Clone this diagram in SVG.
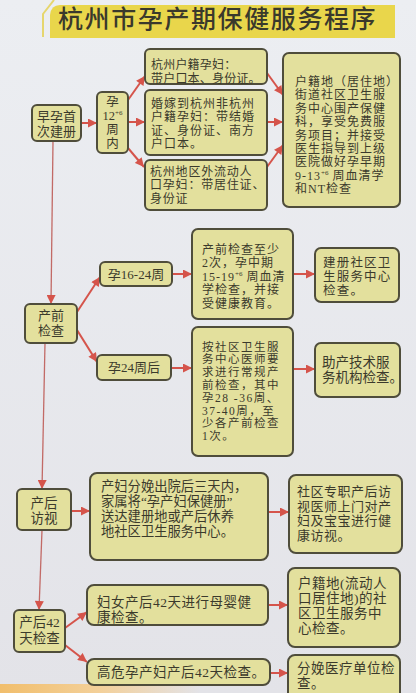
<svg xmlns="http://www.w3.org/2000/svg" width="416" height="693" viewBox="0 0 416 693">
<defs>
<linearGradient id="bg" x1="0" y1="0" x2="0" y2="1">
<stop offset="0" stop-color="#eceef2"/>
<stop offset="1" stop-color="#e3e3e8"/>
</linearGradient>
<linearGradient id="orange" x1="0" y1="0" x2="1" y2="0">
<stop offset="0" stop-color="#f1be6c"/>
<stop offset="0.5" stop-color="#f3d09a"/>
<stop offset="1" stop-color="#f3d09a" stop-opacity="0"/>
</linearGradient>
<marker id="ah" viewBox="0 0 10 10" refX="10" refY="5" markerWidth="10" markerHeight="9" markerUnits="userSpaceOnUse" orient="auto">
<path d="M0,0 L10,5 L0,10 z" fill="#d5544b"/>
</marker>
</defs>
<style>
.box{fill:#e3e09d;stroke:#4f4d3b;stroke-width:2}
.t{font-family:"Liberation Serif","Noto Sans CJK SC",serif;fill:#3b3a2c;font-size:13px}
.c{text-anchor:middle}
.s12{font-size:12px;letter-spacing:1px}
.s12n{font-size:12px;letter-spacing:0.2px}
.s12m{font-size:12px;letter-spacing:0.8px}
.s115{font-size:11.5px;letter-spacing:1.5px}
.s125{font-size:12.5px;letter-spacing:1.2px}
.s13{font-size:13px;letter-spacing:0.5px}
.s135{font-size:13.5px;letter-spacing:0.5px}
.title{font-family:"Noto Sans CJK SC","Noto Sans",sans-serif;font-size:25px;fill:#3a392c;letter-spacing:1.6px;font-weight:500}
.arr{stroke:#d5544b;stroke-width:2;fill:none;marker-end:url(#ah)}
.vl{stroke:#c26a66;stroke-width:1.3;fill:none;marker-end:url(#ah)}
.sup{font-size:7px;letter-spacing:0}
</style>
<rect width="416" height="693" fill="url(#bg)"/>
<rect x="0" y="684" width="200" height="9" fill="url(#orange)"/>

<g id="title">
<polyline points="43,37 43,14 54,0" fill="none" stroke="#e6d66e" stroke-width="2"/>
<path d="M60,5 L395,5 L395,38 L50,38 L50,15 Q51,5 60,5 Z" fill="#e9d64b"/>
<text class="title" x="58" y="28">杭州市孕产期保健服务程序</text>
</g>

<g id="connectors">
<line class="arr" x1="81" y1="123" x2="97" y2="123"/>
<line class="arr" x1="128" y1="100" x2="145" y2="76"/>
<line class="arr" x1="128" y1="122" x2="145" y2="122"/>
<line class="arr" x1="128" y1="148" x2="144" y2="167"/>
<line class="arr" x1="267" y1="73" x2="283" y2="95"/>
<line class="arr" x1="267" y1="122" x2="283" y2="122"/>
<line class="arr" x1="267" y1="167" x2="283" y2="145"/>
<line class="vl" x1="53" y1="141" x2="51" y2="304"/>
<line class="arr" x1="77" y1="312" x2="100" y2="277"/>
<line class="arr" x1="77" y1="330" x2="97" y2="362"/>
<line class="arr" x1="172" y1="274" x2="192" y2="274"/>
<line class="arr" x1="171" y1="368" x2="192" y2="368"/>
<line class="arr" x1="293" y1="274" x2="315" y2="274"/>
<line class="arr" x1="293" y1="369" x2="315" y2="369"/>
<line class="vl" x1="45" y1="343" x2="42" y2="489"/>
<line class="arr" x1="71" y1="511" x2="90" y2="511"/>
<line class="arr" x1="268" y1="512" x2="289" y2="512"/>
<line class="vl" x1="42" y1="530" x2="39" y2="610"/>
<line class="arr" x1="65" y1="628" x2="87" y2="612"/>
<line class="arr" x1="65" y1="645" x2="87" y2="662"/>
<line class="arr" x1="268" y1="605" x2="288" y2="605"/>
<line class="arr" x1="270" y1="673" x2="288" y2="673"/>
</g>

<g id="n-zaoyun">
<rect class="box" x="32" y="105" width="49" height="36" rx="5"/>
<text class="t c" x="56.5" y="121">早孕首</text>
<text class="t c" x="56.5" y="136">次建册</text>
</g>

<g id="n-yun12">
<rect class="box" x="97" y="92" width="31" height="61" rx="5"/>
<text class="t c" x="112.5" y="106" style="font-size:12.5px">孕</text>
<text class="t c" x="112.5" y="120" style="font-size:12.5px">12<tspan class="sup" dy="-5">+6</tspan></text>
<text class="t c" x="112.5" y="134" style="font-size:12.5px">周</text>
<text class="t c" x="112.5" y="148" style="font-size:12.5px">内</text>
</g>

<g id="n-hangzhou">
<rect class="box" x="145" y="49" width="122" height="35" rx="5"/>
<text class="t s12n" x="151" y="69">杭州户籍孕妇：</text>
<text class="t s12n" x="151" y="82.5">带户口本、身份证。</text>
</g>

<g id="n-hunjia">
<rect class="box" x="145" y="90" width="122" height="65" rx="5"/>
<text class="t s12" x="151" y="108">婚嫁到杭州非杭州</text>
<text class="t s12" x="151" y="121.4">户籍孕妇：带结婚</text>
<text class="t s12" x="151" y="134.8">证、身份证、南方</text>
<text class="t s12" x="151" y="148.2">户口本。</text>
</g>

<g id="n-liudong">
<rect class="box" x="145" y="160" width="122" height="50" rx="5"/>
<text class="t s12m" x="150" y="176">杭州地区外流动人</text>
<text class="t s12m" x="150" y="189.4">口孕妇：带居住证、</text>
<text class="t s12m" x="150" y="202.8">身份证</text>
</g>

<g id="n-hujidi">
<rect class="box" x="283" y="53" width="117" height="154" rx="6"/>
<text class="t s12" x="295" y="86">户籍地（居住地）</text>
<text class="t s12" x="295" y="99.4">街道社区卫生服</text>
<text class="t s12" x="295" y="112.8">务中心围产保健</text>
<text class="t s12" x="295" y="126.2">科，享受免费服</text>
<text class="t s12" x="295" y="139.6">务项目；并接受</text>
<text class="t s12" x="295" y="153">医生指导到上级</text>
<text class="t s12" x="295" y="166.4">医院做好孕早期</text>
<text class="t s12" x="295" y="179.8">9-13<tspan class="sup" dy="-5">+6</tspan><tspan dy="5"> 周血清学</tspan></text>
<text class="t s12" x="295" y="193.2">和NT检查</text>
</g>

<g id="n-chanqian">
<rect class="box" x="25" y="304" width="52" height="39" rx="5"/>
<text class="t c" x="51" y="320">产前</text>
<text class="t c" x="51" y="335">检查</text>
</g>

<g id="n-yun16">
<rect class="box" x="100" y="262" width="72" height="24" rx="5"/>
<text class="t c" x="136" y="279">孕16-24周</text>
</g>

<g id="n-yun24">
<rect class="box" x="97" y="355" width="74" height="25" rx="5"/>
<text class="t c" x="134" y="372">孕24周后</text>
</g>

<g id="n-zhishao">
<rect class="box" x="192" y="229" width="101" height="90" rx="6"/>
<text class="t s12" x="202" y="254">产前检查至少</text>
<text class="t s12" x="202" y="267.4">2次，孕中期</text>
<text class="t s12" x="202" y="280.8">15-19<tspan class="sup" dy="-5">+6</tspan><tspan dy="5"> 周血清</tspan></text>
<text class="t s12" x="202" y="294.2">学检查，并接</text>
<text class="t s12" x="202" y="307.6">受健康教育。</text>
</g>

<g id="n-anshequ">
<rect class="box" x="192" y="327" width="101" height="129" rx="6"/>
<text class="t s115" x="202" y="350.5">按社区卫生服</text>
<text class="t s115" x="202" y="363.3">务中心医师要</text>
<text class="t s115" x="202" y="376.1">求进行常规产</text>
<text class="t s115" x="202" y="388.9">前检查，其中</text>
<text class="t s115" x="202" y="401.7">孕28 -36周、</text>
<text class="t s115" x="202" y="414.5">37-40周，至</text>
<text class="t s115" x="202" y="427.3">少各产前检查</text>
<text class="t s115" x="202" y="440.1">1次。</text>
</g>

<g id="n-jiance">
<rect class="box" x="315" y="248" width="84" height="54" rx="6"/>
<text class="t s125" x="323" y="267">建册社区卫</text>
<text class="t s125" x="323" y="281">生服务中心</text>
<text class="t s125" x="323" y="295">检查。</text>
</g>

<g id="n-zhuchan">
<rect class="box" x="315" y="343" width="85" height="54" rx="6"/>
<text class="t" x="322" y="367" style="font-size:13.5px">助产技术服</text>
<text class="t" x="322" y="382" style="font-size:13.5px">务机构检查。</text>
</g>

<g id="n-fangshi">
<rect class="box" x="17" y="489" width="54" height="41" rx="5"/>
<text class="t c" x="44" y="508" style="font-size:13.5px">产后</text>
<text class="t c" x="44" y="523" style="font-size:13.5px">访视</text>
</g>

<g id="n-fenmian">
<rect class="box" x="90" y="473" width="178" height="87" rx="7"/>
<text class="t" x="101" y="491" style="font-size:13.3px">产妇分娩出院后三天内，</text>
<text class="t" x="101" y="506" style="font-size:13.3px">家属将“孕产妇保健册”</text>
<text class="t" x="101" y="521" style="font-size:13.3px">送达建册地或产后休养</text>
<text class="t" x="101" y="536" style="font-size:13.3px">地社区卫生服务中心。</text>
</g>

<g id="n-zhuanzhi">
<rect class="box" x="289" y="475" width="113" height="78" rx="7"/>
<text class="t s13" x="297" y="496">社区专职产后访</text>
<text class="t s13" x="297" y="510.5">视医师上门对产</text>
<text class="t s13" x="297" y="525">妇及宝宝进行健</text>
<text class="t s13" x="297" y="539.5">康访视。</text>
</g>

<g id="n-42tian">
<rect class="box" x="14" y="610" width="51" height="42" rx="5"/>
<text class="t c" x="39.5" y="627" style="font-size:13.5px">产后42</text>
<text class="t c" x="39.5" y="643" style="font-size:13.5px">天检查</text>
</g>

<g id="n-muying">
<rect class="box" x="87" y="585" width="181" height="40" rx="7"/>
<text class="t s135" x="97" y="607">妇女产后42天进行母婴健</text>
<text class="t s135" x="97" y="622">康检查。</text>
</g>

<g id="n-gaowei">
<rect class="box" x="87" y="659" width="183" height="26" rx="7"/>
<text class="t s135" x="97" y="677">高危孕产妇产后42天检查。</text>
</g>

<g id="n-liudongjd">
<rect class="box" x="288" y="568" width="112" height="79" rx="7"/>
<text class="t s135" x="298" y="588">户籍地(流动人</text>
<text class="t s135" x="298" y="603">口居住地)的社</text>
<text class="t s135" x="298" y="618">区卫生服务中</text>
<text class="t s135" x="298" y="633">心检查。</text>
</g>

<g id="n-fenmiandw">
<rect class="box" x="288" y="655" width="112" height="46" rx="7"/>
<text class="t s135" x="297" y="673">分娩医疗单位检</text>
<text class="t s135" x="297" y="688">查。</text>
</g>
</svg>
